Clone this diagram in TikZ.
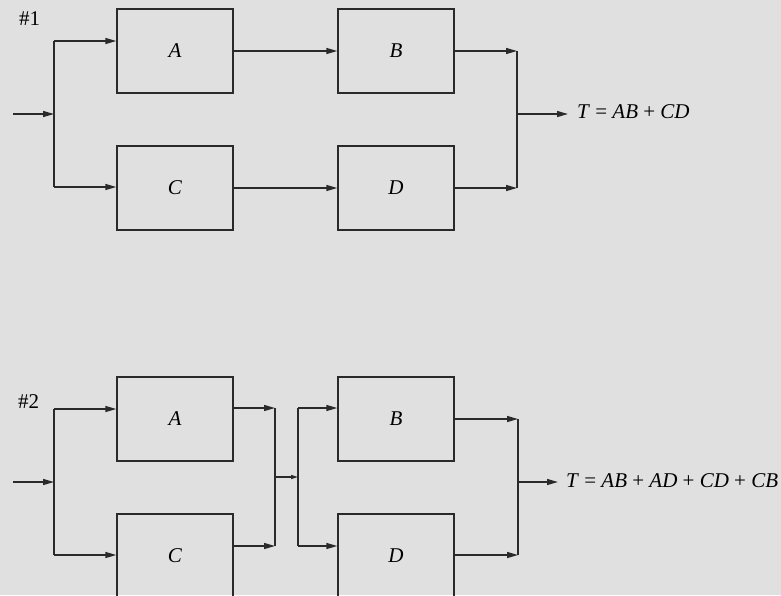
\documentclass[tikz,border=0pt]{standalone}
\usepackage{fontspec}
\setmainfont{Liberation Serif}
\usetikzlibrary{arrows.meta}
\definecolor{bg}{HTML}{E0E0E0}
\definecolor{ink}{HTML}{2A2A2A}
\begin{document}
\begin{tikzpicture}[x=1pt,y=-1pt,
  blk/.style={draw=ink, line width=1.4pt, minimum width=116pt, minimum height=84pt, inner sep=0pt,
    font=\fontsize{21}{25}\selectfont\itshape},
  ln/.style={draw=ink, line width=1.4pt},
  arr/.style={ln, -{Triangle[length=11pt,width=6pt]}},
  sarr/.style={ln, -{Triangle[length=7pt,width=4pt]}},
  lbl/.style={font=\fontsize{21}{25}\selectfont, anchor=base west, inner ysep=0pt, inner xsep=0pt}]
\useasboundingbox (0,0) rectangle (781,595);
\fill[bg] (0,0) rectangle (781,595);
\clip (0,0) rectangle (781,595);

% ---------- Diagram 1 ----------
\node[lbl] (h1) at (19,25.7) {\#1};
\node[blk] (A1) at (175,51) {A};
\node[blk] (B1) at (396,51) {B};
\node[blk] (C1) at (175,188) {C};
\node[blk] (D1) at (396,188) {D};
\node[lbl, inner xsep=9pt] (t1) at (568,118) {\textit{T} = \textit{AB} + \textit{CD}};

\coordinate (in1) at (13,114);
\coordinate (j1) at (54,114);
\coordinate (s1t) at (54,41);
\coordinate (s1b) at (54,187);
\coordinate (m1t) at (517,51);
\coordinate (m1b) at (517,188);
\coordinate (o1) at (517,114);

\draw[arr] (in1) -- (j1);
\draw[ln] (s1t) -- (s1b);
\draw[arr] (s1t) -- (s1t -| A1.west);
\draw[arr] (s1b) -- (s1b -| C1.west);
\draw[arr] (A1.east) -- (B1.west);
\draw[arr] (C1.east) -- (D1.west);
\draw[arr] (B1.east) -- (m1t);
\draw[arr] (D1.east) -- (m1b);
\draw[ln] (m1t) -- (m1b);
\draw[arr] (o1) -- (o1 -| t1.west);

% ---------- Diagram 2 ----------
\node[lbl] (h2) at (18,408.3) {\#2};
\node[blk] (A2) at (175,419) {A};
\node[blk] (B2) at (396,419) {B};
\node[blk] (C2) at (175,556) {C};
\node[blk] (D2) at (396,556) {D};
\node[lbl, inner xsep=8pt] (t2) at (558,487.3) {\textit{T} = \textit{AB} + \textit{AD} + \textit{CD} + \textit{CB}};

\coordinate (in2) at (13,482);
\coordinate (j2) at (54,482);
\coordinate (s2t) at (54,409);
\coordinate (s2b) at (54,555);
\coordinate (p2t) at (275,408);
\coordinate (p2b) at (275,546);
\coordinate (p2m) at (275,477);
\coordinate (q2t) at (298,408);
\coordinate (q2b) at (298,546);
\coordinate (q2m) at (298,477);
\coordinate (m2t) at (518,419);
\coordinate (m2b) at (518,555);
\coordinate (o2) at (518,482);

\draw[arr] (in2) -- (j2);
\draw[ln] (s2t) -- (s2b);
\draw[arr] (s2t) -- (s2t -| A2.west);
\draw[arr] (s2b) -- (s2b -| C2.west);
\draw[arr] (p2t -| A2.east) -- (p2t);
\draw[arr] (p2b -| C2.east) -- (p2b);
\draw[ln] (p2t) -- (p2b);
\draw[sarr] (p2m) -- (q2m);
\draw[ln] (q2t) -- (q2b);
\draw[arr] (q2t) -- (q2t -| B2.west);
\draw[arr] (q2b) -- (q2b -| D2.west);
\draw[arr] (B2.east) -- (m2t);
\draw[arr] (m2b -| D2.east) -- (m2b);
\draw[ln] (m2t) -- (m2b);
\draw[arr] (o2) -- (o2 -| t2.west);
\end{tikzpicture}
\end{document}
